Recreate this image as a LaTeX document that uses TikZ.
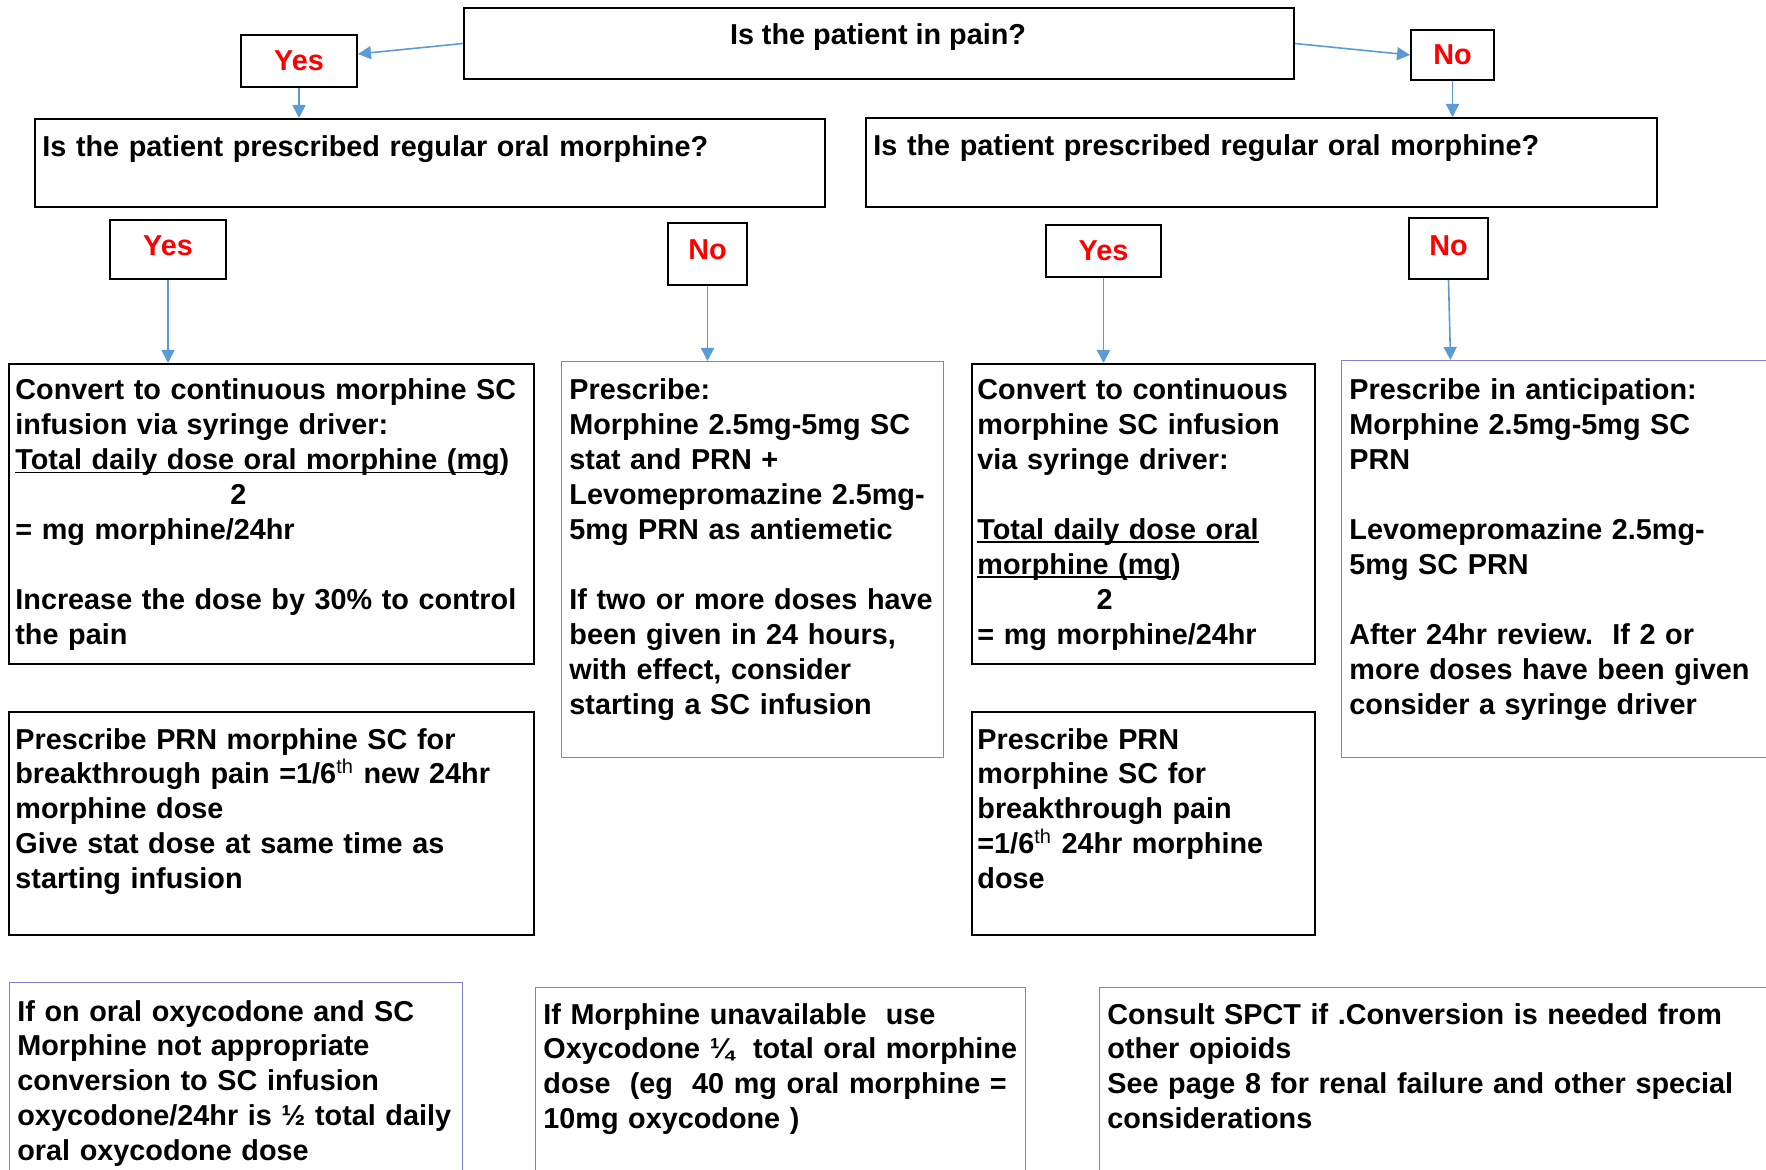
\documentclass[tikz,border=0pt]{standalone}
\usepackage{fontspec}
\setmainfont{Liberation Sans}
\usetikzlibrary{arrows.meta}
\definecolor{linkblue}{RGB}{91,155,213}
\definecolor{framepurple}{RGB}{128,128,208}
\newcommand\ulin[1]{\leavevmode\setbox0=\hbox{#1}\rlap{\rule[-1.8pt]{\wd0}{0.9pt}}\box0}
\frenchspacing
\tikzset{
  frame/.style={draw=black,line width=1pt,inner sep=0pt,anchor=north west},
  thinframe/.style={draw=framepurple,line width=0.6pt,inner sep=0pt,anchor=north west},
  answer/.style={draw=black,line width=1pt,inner sep=0pt,text=red},
  txt/.style={anchor=base west,inner sep=0pt,align=left,text width=#1},
  link/.style={draw=linkblue,line width=0.8pt,-{Triangle[length=6.5pt,width=6.5pt]}},
}
\begin{document}
\begin{tikzpicture}[x=0.5pt,y=-0.5pt,every node/.append style={font=\bfseries\fontsize{14.4}{17.45}\selectfont}]
\clip (0,0) rectangle (1766,1170);

% first question
\node[frame,minimum width=415pt,minimum height=35.5pt] (q0) at (463,7) {};
\node[anchor=base,inner sep=0pt] (tq0) at (878,45) {Is the patient in pain?};
\node[answer,minimum width=58pt,minimum height=26pt] (yes0) at (299,61) {Yes};
\node[answer,minimum width=41.5pt,minimum height=25pt] (no0) at (1452.5,55) {No};

% second questions
\node[frame,minimum width=395pt,minimum height=44pt] (qL) at (34,118) {};
\node[txt=390pt] (tqL) at (42,157) {Is the patient prescribed regular oral morphine?};
\node[frame,minimum width=395.5pt,minimum height=44.5pt] (qR) at (865,117) {};
\node[txt=390pt] (tqR) at (873,156) {Is the patient prescribed regular oral morphine?};

\node[answer,minimum width=58pt,minimum height=29.5pt,text depth=3.5pt] (yesL) at (168,249.5) {Yes};
\node[answer,minimum width=39.5pt,minimum height=31pt,text depth=4.5pt] (noL) at (707.5,254) {No};
\node[answer,minimum width=57.5pt,minimum height=26pt] (yesR) at (1103.5,251) {Yes};
\node[answer,minimum width=39.5pt,minimum height=30.5pt,text depth=3.4pt] (noR) at (1448.5,248.5) {No};

% actions
\node[frame,minimum width=262.5pt,minimum height=150pt] (convL) at (8,363) {};
\node[txt=256pt] (tconvL) at (15,400) {Convert to continuous morphine SC\\
infusion via syringe driver:\\
\ulin{Total daily dose oral morphine (mg})\\
\hspace*{107.5pt}2\\
= mg morphine/24hr\\[17.45pt]
Increase the dose by 30\% to control\\
the pain};

\node[thinframe,minimum width=191pt,minimum height=198pt] (presL) at (561,361) {};
\node[txt=190pt] (tpresL) at (569,400) {Prescribe:\\
Morphine 2.5mg-5mg SC\\
stat and PRN +\\
Levomepromazine 2.5mg-\\
5mg PRN as antiemetic\\[17.45pt]
If two or more doses have\\
been given in 24 hours,\\
with effect, consider\\
starting a SC infusion};

\node[frame,minimum width=171.5pt,minimum height=150pt] (convR) at (971,363) {};
\node[txt=170pt] (tconvR) at (977,400) {Convert to continuous\\
morphine SC infusion\\
via syringe driver:\\[17.45pt]
\ulin{Total daily dose oral}\\
\ulin{morphine (mg})\\
\hspace*{59.6pt}2\\
= mg morphine/24hr};

\node[thinframe,minimum width=250pt,minimum height=198.5pt] (presR) at (1341,360) {};
\node[txt=210pt] (tpresR) at (1349,400) {Prescribe in anticipation:\\
Morphine 2.5mg-5mg SC\\
PRN\\[17.45pt]
Levomepromazine 2.5mg-\\
5mg SC PRN\\[17.45pt]
After 24hr review.~ If 2 or\\
more doses have been given\\
consider a syringe driver};

\node[frame,minimum width=262.5pt,minimum height=111.5pt] (prnL) at (8,711) {};
\node[txt=256pt] (tprnL) at (15,749) {Prescribe PRN morphine SC for\\
breakthrough pain =1/6\textsuperscript{\mdseries th} new 24hr\\
morphine dose\\
Give stat dose at same time as\\
starting infusion};

\node[frame,minimum width=171.5pt,minimum height=111.5pt] (prnR) at (971,711) {};
\node[txt=170pt] (tprnR) at (977,749) {Prescribe PRN\\
morphine SC for\\
breakthrough pain\\
=1/6\textsuperscript{\mdseries th} 24hr morphine\\
dose};

% notes
\node[thinframe,minimum width=226.5pt,minimum height=125pt] (oxy) at (9,982) {};
\node[txt=225pt] (toxy) at (17,1021) {If on oral oxycodone and SC\\
Morphine not appropriate\\
conversion to SC infusion\\
oxycodone/24hr is ½ total daily\\
oral oxycodone dose};

\node[thinframe,minimum width=245pt,minimum height=125pt] (unavail) at (535,987) {};
\node[txt=250pt] (tunavail) at (543,1024) {If Morphine unavailable~ use\\
Oxycodone ¼~ total oral morphine\\
dose~ (eg~ 40 mg oral morphine =\\
10mg oxycodone )};

\node[thinframe,minimum width=350pt,minimum height=125pt] (spct) at (1099,987) {};
\node[txt=330pt] (tspct) at (1107,1024) {Consult SPCT if .Conversion is needed from\\
other opioids\\
See page 8 for renal failure and other special\\
considerations};

\draw[link] (q0.west) -- ([yshift=3.5pt]yes0.east);
\draw[link] (q0.east) -- (no0.west);
\draw[link] (yes0.south) -- (yes0.south |- qL.north);
\draw[link] (no0.south) -- (no0.south |- qR.north);
\draw[link] (yesL.south) -- (yesL.south |- convL.north);
\draw[link] (noL.south) -- (noL.south |- presL.north);
\draw[link] (yesR.south) -- (yesR.south |- convR.north);
\draw[link] (noR.south) -- ([xshift=1pt]noR.south |- presR.north);
\end{tikzpicture}
\end{document}
